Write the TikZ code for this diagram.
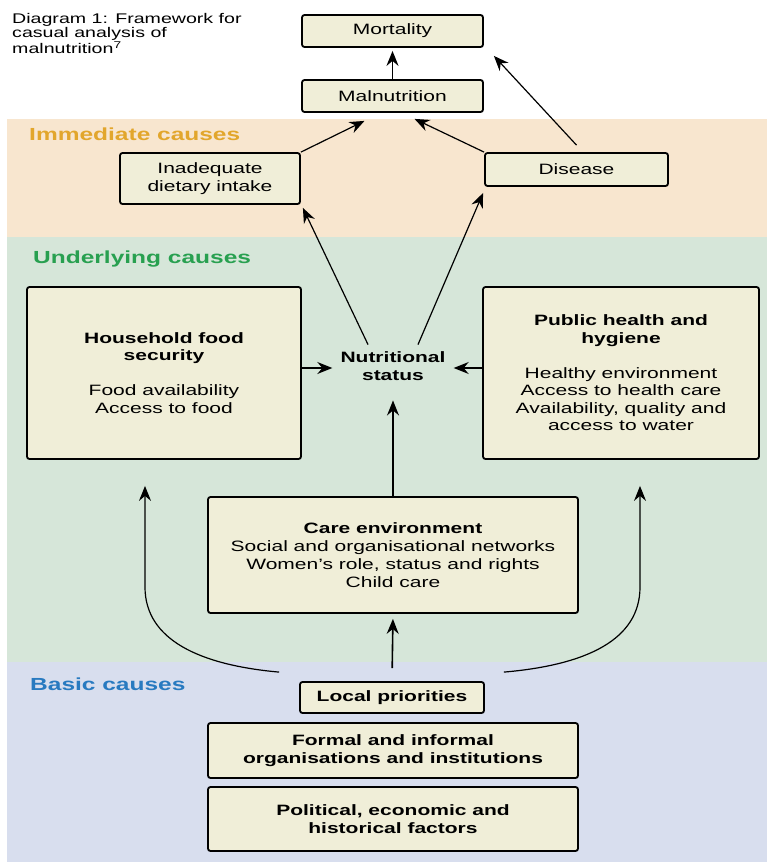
\documentclass[tikz,border=0pt]{standalone}
\usepackage{fontspec}
\setmainfont{Liberation Sans}[FakeStretch=1.4]
\usetikzlibrary{arrows.meta}
\definecolor{peach}{RGB}{248,230,207}
\definecolor{mint}{RGB}{214,230,217}
\definecolor{lav}{RGB}{216,222,238}
\definecolor{boxfill}{RGB}{240,238,216}
\definecolor{gold}{RGB}{226,166,44}
\definecolor{lgreen}{RGB}{40,160,80}
\definecolor{lblue}{RGB}{40,122,192}
\begin{document}
\begin{tikzpicture}[x=1pt,y=-1pt,
  box/.style={draw=black,line width=1.8pt,rounded corners=2.5pt,fill=boxfill,align=center,inner sep=0pt,font=\fontsize{15}{17.5}\selectfont},
  tip/.tip={Stealth[length=15pt,width=12pt,inset=5pt]},
  arr/.style={-tip,line width=1.2pt},
  cause/.style={anchor=base west,inner sep=0pt,font=\bfseries\fontsize{17.5}{20}\selectfont}]
\useasboundingbox (0,0) rectangle (767,862);
\fill[white] (0,0) rectangle (767,862);
% bands
\fill[peach] (7,119) rectangle (767,237);
\fill[mint] (7,237) rectangle (767,662);
\fill[lav] (7,662) rectangle (767,862);
% title
\node[anchor=north west,inner sep=0pt,align=left,font=\fontsize{14}{13}\selectfont] (title) at (12,13)
  {Diagram 1: Framework for\\casual analysis of\\malnutrition\textsuperscript{7}};
% band labels
\node[cause,text=gold] (lim) at (29,140) {Immediate causes};
\node[cause,text=lgreen] (lund) at (33,263) {Underlying causes};
\node[cause,text=lblue] (lbas) at (30,690) {Basic causes};
% boxes
\node[box,minimum width=181pt,minimum height=32pt] (mort) at (392.5,31) {Mortality};
\node[box,minimum width=181pt,minimum height=32pt] (mal) at (392.5,96) {Malnutrition};
\node[box,minimum width=180pt,minimum height=51pt] (inad) at (210,178.5) {Inadequate\\dietary intake};
\node[box,minimum width=183pt,minimum height=33pt] (dis) at (576.5,169.5) {Disease};
\node[box,minimum width=274pt,minimum height=172pt] (hh) at (164,373)
  {\textbf{Household food}\\\textbf{security}\\[17.5pt]Food availability\\Access to food};
\node[box,minimum width=276pt,minimum height=172pt] (ph) at (621,373)
  {\textbf{Public health and}\\\textbf{hygiene}\\[17.5pt]Healthy environment\\Access to health care\\Availability, quality and\\access to water};
\node[inner sep=0pt,align=center,font=\bfseries\fontsize{15}{17.5}\selectfont] (nut) at (393,366) {Nutritional\\status};
\node[box,minimum width=370pt,minimum height=116pt,font=\fontsize{15}{18}\selectfont] (care) at (393,555)
  {\textbf{Care environment}\\Social and organisational networks\\Women's role, status and rights\\Child care};
\node[box,minimum width=184pt,minimum height=31pt,font=\bfseries\fontsize{15}{17.5}\selectfont] (local) at (392,697.5) {Local priorities};
\node[box,minimum width=370pt,minimum height=55pt,font=\bfseries\fontsize{15}{17.5}\selectfont] (formal) at (393,750.5) {Formal and informal\\organisations and institutions};
\node[box,minimum width=370pt,minimum height=64pt,font=\bfseries\fontsize{15}{17.5}\selectfont] (pol) at (393,819) {Political, economic and\\historical factors};
% connectors
\draw[arr,line width=1.6pt,shorten >=3pt] (mal.north) -- (mort.south);
\draw[arr] (inad.north east) -- ([xshift=-28pt,yshift=-8pt]mal.south);
\draw[arr] (dis.north west) -- ([xshift=22pt,yshift=-6pt]mal.south);
\draw[arr] ([yshift=7pt]dis.north) -- ([xshift=10pt,yshift=-8pt]mort.south east);
\draw[arr] ([xshift=-25pt,yshift=7pt]nut.north) -- ([xshift=2pt,yshift=-3pt]inad.south east);
\draw[arr] ([xshift=25pt,yshift=7pt]nut.north) -- ([xshift=-1pt,yshift=-6pt]dis.south west);
\draw[arr] ([yshift=5pt]hh.east) -- ([xshift=-8pt,yshift=-2pt]nut.west);
\draw[arr] ([yshift=5pt]ph.west) -- ([xshift=8pt,yshift=-2pt]nut.east);
\draw[arr,line width=1.6pt,shorten >=20pt] (care.north) -- (nut.south);
\draw[arr,line width=1.6pt,shorten <=13pt,shorten >=5pt] (local.north) -- (care.south);
\coordinate (lbend) at (145,587);
\coordinate (rbend) at (640,587);
\draw[arr] ([xshift=-20pt,yshift=9pt]local.north west) .. controls (200,665) and (145,640) .. (lbend) -- ([xshift=-19pt,yshift=-26pt]hh.south);
\draw[arr] ([xshift=19pt,yshift=9pt]local.north east) .. controls (586,665) and (640,640) .. (rbend) -- ([xshift=19pt,yshift=-26pt]ph.south);
\end{tikzpicture}
\end{document}
